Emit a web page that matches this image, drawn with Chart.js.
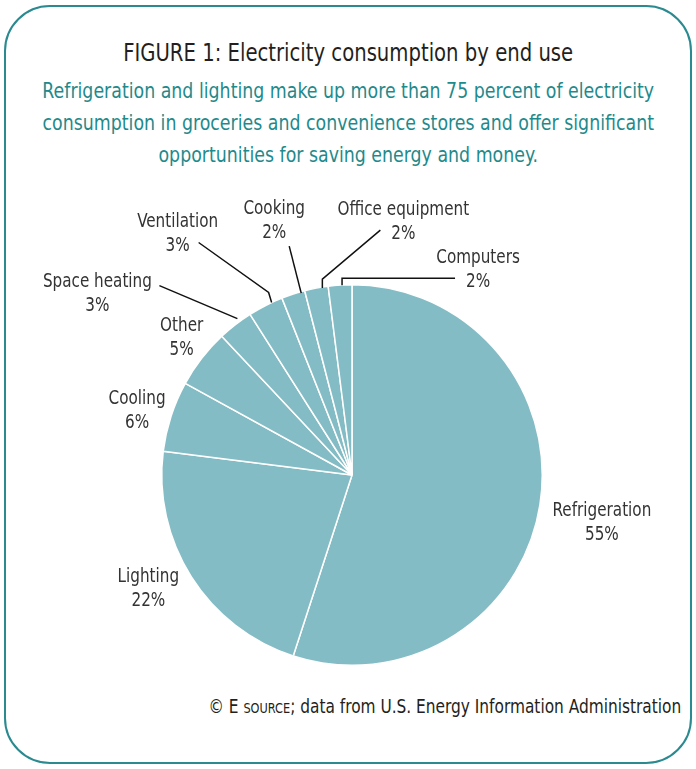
<!DOCTYPE html>
<html><head><meta charset="utf-8">
<script src="https://cdn.jsdelivr.net/npm/chart.js@4"></script>
<style>
html,body{margin:0;padding:0;background:#fff;width:696px;height:769px;overflow:hidden;}
body{font-family:"Liberation Sans Narrow","DejaVu Sans Condensed",sans-serif;font-stretch:condensed;}
#frame{position:absolute;left:4px;top:5px;width:688px;height:759px;border:2px solid #2a8a90;border-radius:46px;box-sizing:border-box;}
#title{position:absolute;left:0;width:696px;top:38px;text-align:center;font-size:24px;color:#231f20;line-height:30px;transform:scaleX(0.91);transform-origin:350px 0;}
#sub{position:absolute;left:0;width:696px;top:75px;text-align:center;font-size:21px;color:#1f8a8c;line-height:32px;transform:scaleX(0.92);transform-origin:351px 0;}
#foot{position:absolute;right:15px;top:695px;font-size:19px;color:#231f20;white-space:nowrap;transform:scaleX(0.9);transform-origin:100% 0;}
#foot .sc{font-size:14px;}
#wrap{position:absolute;left:0;top:170px;width:696px;height:520px;}
</style></head><body>
<div id="frame"></div>
<div id="title">FIGURE 1: Electricity consumption by end use</div>
<div id="sub">Refrigeration and lighting make up more than 75 percent of electricity<br>consumption in groceries and convenience stores and offer significant<br>opportunities for saving energy and money.</div>
<div id="foot">© E <span class="sc">SOURCE</span>; data from U.S. Energy Information Administration</div>
<div id="wrap"><canvas id="c"></canvas></div>
<script>
const categories = ["Refrigeration","Lighting","Cooling","Other","Space heating","Ventilation","Cooking","Office equipment","Computers"];
const shares = [55,22,6,5,3,3,2,2,2];
const percentLabels = ["55%","22%","6%","5%","3%","3%","2%","2%","2%"];

// label placement relative to each slice's outer mid-point
const labelLayout = [
  {t:[62,18], lead:null},
  {t:[-43,12], lead:null},
  {t:[-34,-5], lead:null},
  {t:[-20,-20], lead:null},
  {t:[-138,-31], lead:[[2,-6],[-76,-39]]},
  {t:[-88,-71], lead:[[6,-3],[3,-13],[-67,-63]]},
  {t:[-19,-73], lead:[[8,-1],[-4,-48]]},
  {t:[87,-66], lead:[[6,0],[6,-9],[64,-58]]},
  {t:[138,-15], lead:[[2,0],[2,-7],[115,-7]]}
];

const labelPlugin = {
  id:'sliceLabels',
  afterDatasetsDraw(chart){
    const ctx = chart.ctx;
    const meta = chart.getDatasetMeta(0);
    ctx.save();
    meta.data.forEach((arc,i)=>{
      const p = arc.getProps(['x','y','startAngle','endAngle','outerRadius'],true);
      const mid = (p.startAngle+p.endAngle)/2;
      const mx = p.x + Math.cos(mid)*p.outerRadius;
      const my = p.y + Math.sin(mid)*p.outerRadius;
      const L = labelLayout[i];
      if(L.lead){
        ctx.strokeStyle = '#111';
        ctx.lineWidth = 1.5;
        ctx.beginPath();
        L.lead.forEach((q,k)=>{ const x=mx+q[0], y=my+q[1]; if(k===0) ctx.moveTo(x,y); else ctx.lineTo(x,y); });
        ctx.stroke();
      }
      ctx.fillStyle = '#333';
      ctx.font = '19px "Liberation Sans Narrow","DejaVu Sans Condensed",sans-serif';
      ctx.textAlign = 'center';
      ctx.textBaseline = 'middle';
      const cx = mx + L.t[0], cy = my + L.t[1];
      ctx.save();
      ctx.translate(cx, cy);
      ctx.scale(0.89, 1);
      ctx.fillText(categories[i], 0, -12);
      ctx.fillText(percentLabels[i], 0, 12);
      ctx.restore();
    });
    ctx.restore();
  }
};

new Chart(document.getElementById('c'), {
  type:'pie',
  data:{labels:categories, datasets:[{data:shares, backgroundColor:'#84bcc5', borderColor:'#ffffff', borderWidth:1.5}]},
  options:{
    responsive:true, maintainAspectRatio:false, animation:false,
    layout:{padding:{left:161,right:153,top:114,bottom:24}},
    plugins:{legend:{display:false}, tooltip:{enabled:false}}
  },
  plugins:[labelPlugin]
});
</script>
</body></html>
